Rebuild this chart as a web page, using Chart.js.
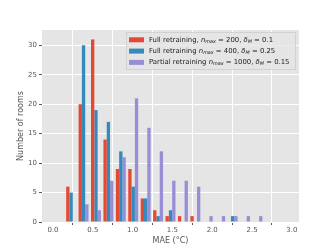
<!DOCTYPE html>
<html>
<head>
<meta charset="utf-8">
<script src="https://cdn.jsdelivr.net/npm/chart.js@4"></script>
<style>
  html, body { margin: 0; padding: 0; background: #fff; }
  #wrap { width: 333px; height: 250px; position: relative; }
</style>
</head>
<body>
<div id="wrap"><canvas id="chart"></canvas></div>
<script>
// histogram bin centres (MAE, °C)
const binCenters = [0.228, 0.384, 0.540, 0.696, 0.852, 1.008, 1.164, 1.320,
                    1.476, 1.632, 1.788, 1.944, 2.100, 2.256, 2.412, 2.568];

// rooms per bin
const fullSmall   = [6, 20, 31, 14,  9,  9,  4,  2, 1, 1, 1, 0, 0, 0, 0, 0];
const fullLarge   = [5, 30, 19, 17, 12,  6,  4,  1, 2, 0, 0, 0, 0, 1, 0, 0];
const partial     = [0,  3,  2,  7, 11, 21, 16, 12, 7, 7, 6, 1, 1, 1, 1, 1];

const xTicks = [0, 0.5, 1.0, 1.5, 2.0, 2.5, 3.0];
const yTicks = [0, 5, 10, 15, 20, 25, 30];

const colors = ['#E24A33', '#348ABD', '#988ED5'];

// legend rows: pieces of text, some italic / subscript
const legendRows = [
  [['Full retraining, '], ['n', 'i'], ['max', 's'], [' = 200, '], ['δ', 'i'], ['M', 's'], [' = 0.1']],
  [['Full retraining '], ['n', 'i'], ['max', 's'], [' = 400, '], ['δ', 'i'], ['M', 's'], [' = 0.25']],
  [['Partial retraining '], ['n', 'i'], ['max', 's'], [' = 1000, '], ['δ', 'i'], ['M', 's'], [' = 0.15']]
];

const toPts = arr => arr.map((v, i) => ({x: binCenters[i], y: v}));

const bgPlugin = {
  id: 'bg',
  beforeDraw(chart) {
    const {ctx, chartArea: a} = chart;
    ctx.save();
    ctx.fillStyle = '#E5E5E5';
    ctx.fillRect(a.left, a.top, a.right - a.left, a.bottom - a.top);
    ctx.restore();
  }
};

const legendPlugin = {
  id: 'mathLegend',
  afterDraw(chart) {
    const ctx = chart.ctx;
    const x0 = 126, y0 = 32, w = 170, h = 38;
    ctx.save();
    ctx.fillStyle = 'rgba(229,229,229,0.8)';
    ctx.strokeStyle = 'rgba(204,204,204,0.8)';
    ctx.lineWidth = 1;
    ctx.fillRect(x0, y0, w, h);
    ctx.strokeRect(x0 + 0.5, y0 + 0.5, w - 1, h - 1);
    const fs = 6.9;
    legendRows.forEach((row, r) => {
      const cy = 39.8 + r * 11.3;
      ctx.fillStyle = colors[r];
      ctx.fillRect(129, cy - 2.5, 15, 5);
      let x = 149;
      ctx.fillStyle = '#1a1a1a';
      ctx.textBaseline = 'middle';
      row.forEach(([t, style]) => {
        if (style === 's') {
          ctx.font = 'italic ' + (fs * 0.7) + 'px "DejaVu Sans"';
          ctx.fillText(t, x, cy + 1.5);
        } else if (style === 'i') {
          ctx.font = 'italic ' + fs + 'px "DejaVu Sans"';
          ctx.fillText(t, x, cy);
        } else {
          ctx.font = fs + 'px "DejaVu Sans"';
          ctx.fillText(t, x, cy);
        }
        x += ctx.measureText(t).width;
      });
    });
    ctx.restore();
  }
};

Chart.defaults.font.family = '"DejaVu Sans"';
Chart.defaults.color = '#555';

new Chart(document.getElementById('chart'), {
  type: 'bar',
  data: {
    datasets: [
      {label: 'Full retraining, n_max = 200, δ_M = 0.1', data: toPts(fullSmall), backgroundColor: colors[0]},
      {label: 'Full retraining n_max = 400, δ_M = 0.25', data: toPts(fullLarge), backgroundColor: colors[1]},
      {label: 'Partial retraining n_max = 1000, δ_M = 0.15', data: toPts(partial), backgroundColor: colors[2]}
    ]
  },
  options: {
    responsive: true,
    maintainAspectRatio: false,
    animation: false,
    categoryPercentage: 0.8,
    barPercentage: 1.0,
    layout: { padding: { top: 30, right: 34, left: 0, bottom: 0 } },
    plugins: {
      legend: { display: false },
      tooltip: { enabled: false }
    },
    scales: {
      x: {
        type: 'linear',
        offset: false,
        min: -0.138,
        max: 3.09,
        afterBuildTicks: s => { s.ticks = xTicks.map(v => ({value: v})); },
        afterFit: s => { s.height = 28; },
        ticks: {
          font: { size: 7 },
          color: '#555',
          padding: 1,
          maxRotation: 0,
          callback: v => v.toFixed(1)
        },
        grid: { color: '#fff', lineWidth: 1, tickColor: '#555', tickLength: 3 },
        border: { display: false },
        title: {
          display: true,
          text: 'MAE (°C)',
          font: { size: 8 },
          color: '#555',
          padding: { top: 0, bottom: 4 }
        }
      },
      y: {
        min: 0,
        max: 32.6,
        afterBuildTicks: s => { s.ticks = yTicks.map(v => ({value: v})); },
        afterFit: s => { s.width = 42; },
        ticks: { font: { size: 7 }, color: '#555', padding: 2 },
        grid: { color: '#fff', lineWidth: 1, tickColor: '#555', tickLength: 3 },
        border: { display: false },
        title: {
          display: true,
          text: 'Number of rooms',
          font: { size: 8 },
          color: '#555',
          padding: { top: 16, bottom: 0 }
        }
      }
    }
  },
  plugins: [bgPlugin, legendPlugin]
});
</script>
</body>
</html>
